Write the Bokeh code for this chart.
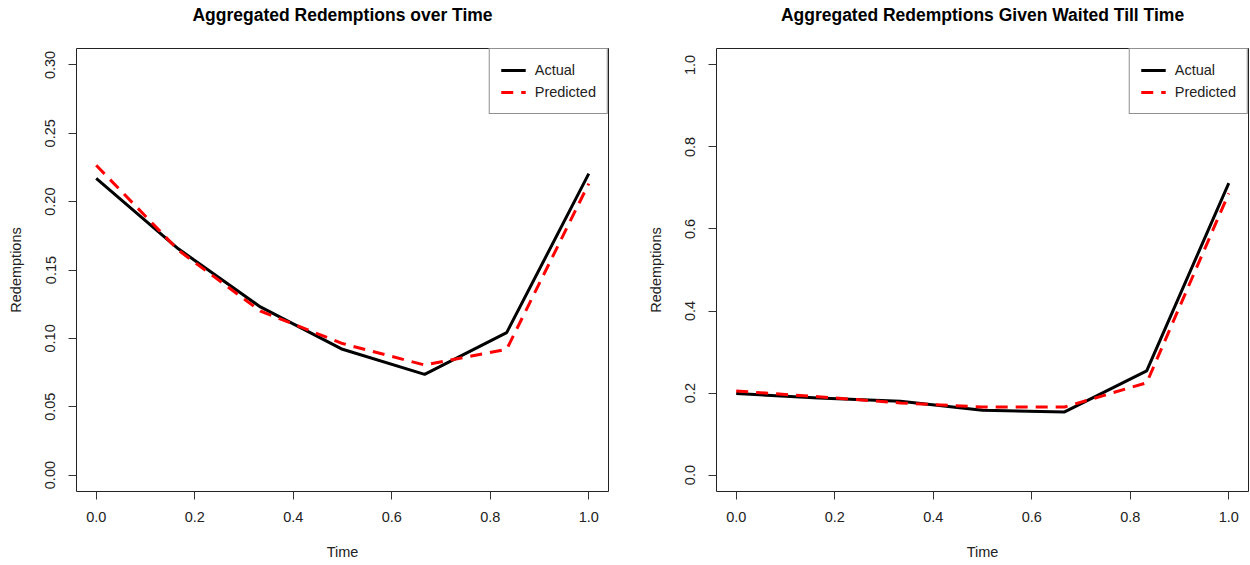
import math
from bokeh.plotting import figure
from bokeh.layouts import row
from bokeh.models import (FixedTicker, PrintfTickFormatter, Range1d, Legend, LegendItem,
                          LinearAxis)
from bokeh.embed import file_html
from bokeh.resources import INLINE

# ---- data ----
time = [0.0, 0.1667, 0.3333, 0.5, 0.6667, 0.8333, 1.0]
over_time_actual = [0.217, 0.1655, 0.123, 0.092, 0.0737, 0.1042, 0.2205]
over_time_predicted = [0.2266, 0.1645, 0.120, 0.0962, 0.0805, 0.0920, 0.2132]
waited_actual = [0.199, 0.188, 0.180, 0.158, 0.154, 0.254, 0.712]
waited_predicted = [0.205, 0.191, 0.176, 0.166, 0.166, 0.225, 0.687]

x_ticks = [0.0, 0.2, 0.4, 0.6, 0.8, 1.0]
left_y_ticks = [0.0, 0.05, 0.10, 0.15, 0.20, 0.25, 0.30]
right_y_ticks = [0.0, 0.2, 0.4, 0.6, 0.8, 1.0]
titles = ["Aggregated Redemptions over Time", "Aggregated Redemptions Given Waited Till Time"]
x_label = "Time"
y_label = "Redemptions"
legend_labels = ["Actual", "Predicted"]

FONT = "Liberation Sans"
TXT = "#222222"


def make_panel(title, actual, predicted, y_ticks, y_fmt, y_max,
               border_left, border_right):
    p = figure(frame_width=532, frame_height=443,
               min_border_left=border_left, min_border_right=border_right,
               min_border_top=48, min_border_bottom=73,
               x_range=Range1d(-0.04, 1.04),
               y_range=Range1d(-0.04 * y_max, 1.04 * y_max),
               output_backend="svg", toolbar_location=None)
    p.background_fill_color = "white"
    p.border_fill_color = "white"
    p.grid.visible = False
    p.outline_line_color = TXT
    p.outline_line_width = 1
    p.outline_line_alpha = 1.0

    xa = p.below[0]
    ya = p.left[0]

    # invisible spacer axis between frame and title (the title stacks outside it)
    spacer = LinearAxis(ticker=FixedTicker(ticks=[0.5]), major_tick_out=24, major_tick_in=0,
                        major_label_standoff=0, major_label_overrides={0.5: " "},
                        axis_line_color=None, major_tick_line_color=None,
                        minor_tick_line_color=None, major_label_text_font_size="1px",
                        major_label_text_color=None)
    p.add_layout(spacer, "above")

    p.title.text = title
    p.title.align = "center"
    p.title.text_font = FONT
    p.title.text_font_size = "17.5px"
    p.title.text_font_style = "bold"
    p.title.text_color = "black"
    p.title.standoff = 0

    r1 = p.line(time, actual, line_color="black", line_width=3)
    r2 = p.line(time, predicted, line_color="#ff0000", line_width=3, line_dash="12 8")

    for ax in (xa, ya):
        ax.axis_line_color = None
        ax.major_tick_out = 8
        ax.major_tick_in = 0
        ax.major_tick_line_color = "#333333"
        ax.minor_tick_line_color = None
        ax.major_label_text_font = FONT
        ax.major_label_text_font_size = "14.5px"
        ax.major_label_text_color = TXT
        ax.axis_label_text_font = FONT
        ax.axis_label_text_font_size = "14.5px"
        ax.axis_label_text_font_style = "normal"
        ax.axis_label_text_color = TXT

    xa.ticker = FixedTicker(ticks=x_ticks)
    xa.formatter = PrintfTickFormatter(format="%.1f")
    xa.major_label_standoff = 12
    xa.axis_label = x_label
    xa.axis_label_standoff = 19

    ya.ticker = FixedTicker(ticks=y_ticks)
    ya.formatter = PrintfTickFormatter(format=y_fmt)
    ya.major_label_orientation = "vertical"
    ya.major_label_standoff = 13
    ya.axis_label = y_label
    ya.axis_label_standoff = 19

    legend = Legend(items=[LegendItem(label=legend_labels[0], renderers=[r1]),
                           LegendItem(label=legend_labels[1], renderers=[r2])],
                    location="top_right")
    legend.margin = 0
    legend.padding = 11
    legend.spacing = 2
    legend.label_height = 20
    legend.glyph_height = 20
    legend.glyph_width = 25
    legend.label_standoff = 9
    legend.border_line_color = TXT
    legend.border_line_width = 1
    legend.background_fill_color = "white"
    legend.background_fill_alpha = 1.0
    legend.label_text_font = FONT
    legend.label_text_font_size = "14.5px"
    legend.label_text_color = TXT
    p.add_layout(legend)
    return p


left = make_panel(titles[0], over_time_actual, over_time_predicted, left_y_ticks,
                  "%.2f", 0.30, 76, 17)
right = make_panel(titles[1], waited_actual, waited_predicted, right_y_ticks,
                   "%.1f", 1.0, 91, 1)

layout = row(left, right)
open("out.html", "w").write(file_html(layout, INLINE))
